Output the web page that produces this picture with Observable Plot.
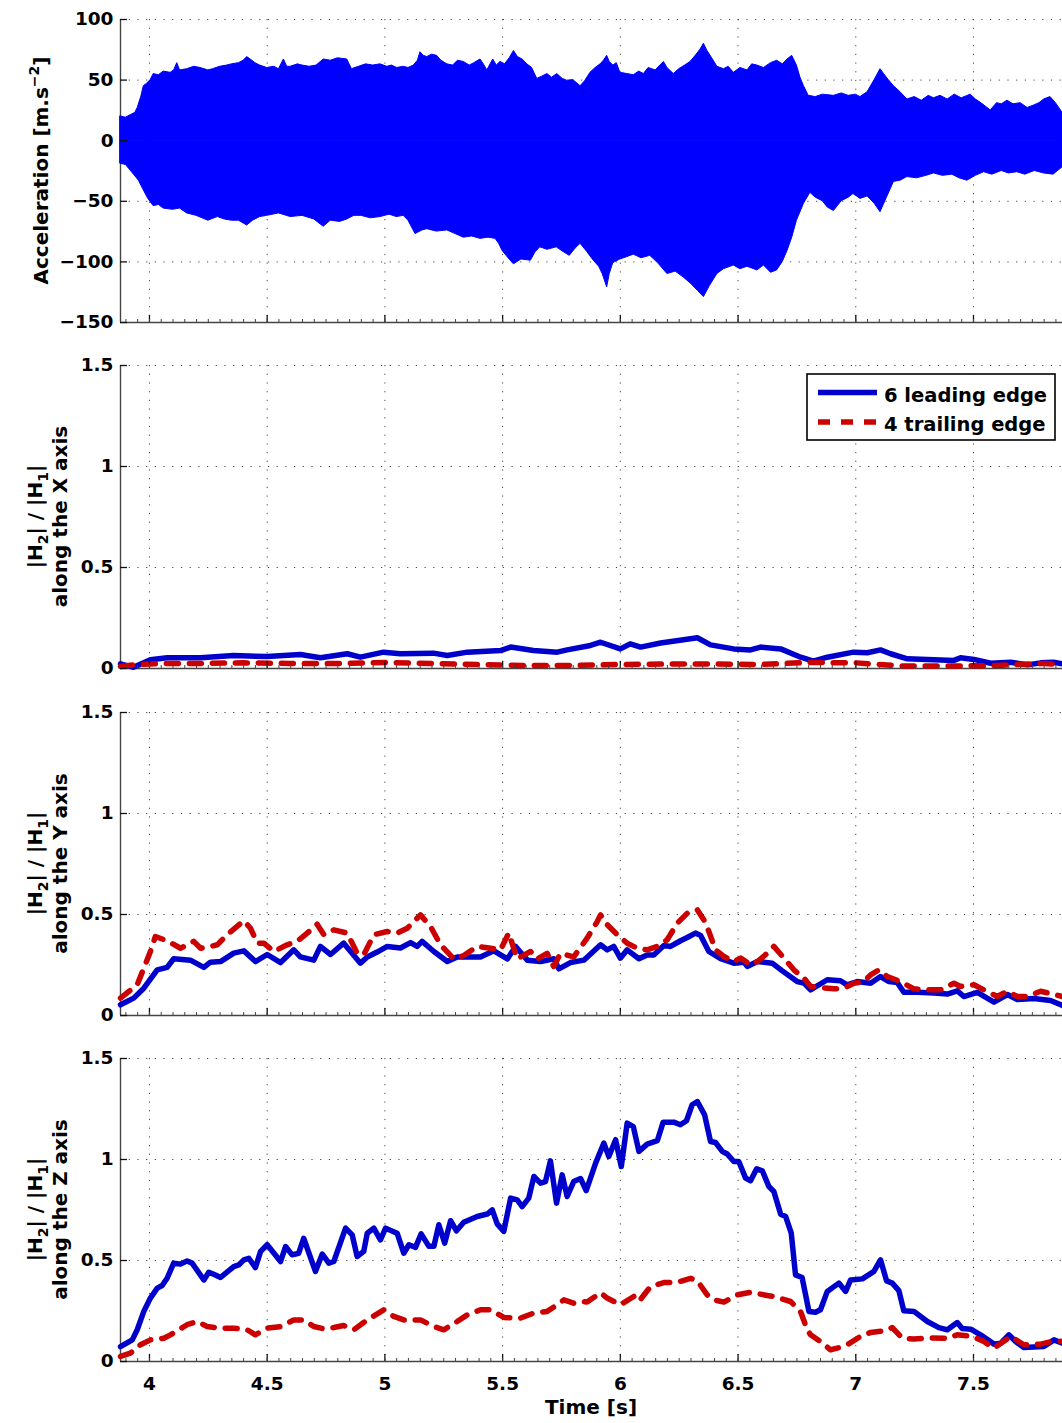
<!DOCTYPE html>
<html><head><meta charset="utf-8">
<script src="https://cdn.jsdelivr.net/npm/d3@7"></script>
<script src="https://cdn.jsdelivr.net/npm/@observablehq/plot@0.6"></script>
<style>
html,body{margin:0;padding:0;background:#fff;}
#wrap{position:relative;width:1062px;height:1423px;overflow:hidden;}
.panel{position:absolute;left:0;}
.panel svg{display:block;}
</style></head><body><div id="wrap"></div>
<script>
// ---------- data (time [s], value) ----------
const xTicks = [4, 4.5, 5, 5.5, 6, 6.5, 7, 7.5];
const accTicks = [100, 50, 0, -50, -100, -150];
const ratioTicks = [0, 0.5, 1, 1.5];
const xDomain = [3.877, 7.878];

const accUpper = [[3.877,20],[3.9,19],[3.92,21],[3.94,23],[3.95,27],[3.965,36],[3.976,45],[3.99,47],[4.005,50],[4.018,55],[4.04,54],[4.06,57],[4.09,56],[4.105,58],[4.118,64],[4.13,58],[4.16,59],[4.19,61],[4.217,60],[4.25,58],[4.27,59],[4.3,61],[4.33,62],[4.35,63],[4.38,64],[4.4,66],[4.415,69],[4.43,67],[4.45,64],[4.47,62],[4.5,60],[4.53,61],[4.55,59],[4.571,67],[4.585,61],[4.6,61],[4.63,63],[4.65,62],[4.68,61],[4.71,62],[4.74,67],[4.77,66],[4.8,68],[4.84,67],[4.86,59],[4.89,61],[4.92,63],[4.95,62],[4.981,63],[5.01,61],[5.03,62],[5.052,60],[5.08,61],[5.1,60],[5.123,62],[5.14,66],[5.151,73],[5.165,70],[5.18,69],[5.2,71],[5.222,70],[5.24,66],[5.265,63],[5.29,62],[5.31,66],[5.335,65],[5.36,62],[5.38,64],[5.406,67],[5.42,63],[5.435,58],[5.46,67],[5.475,62],[5.491,65],[5.51,63],[5.53,68],[5.548,74],[5.565,69],[5.585,67],[5.605,63],[5.625,60],[5.647,51],[5.67,53],[5.69,55],[5.71,52],[5.732,55],[5.755,51],[5.774,49.5],[5.8,50],[5.831,45],[5.85,49],[5.873,56],[5.895,60],[5.916,63],[5.93,66],[5.944,70],[5.955,65],[5.97,62],[5.985,64],[6.0,56],[6.03,55],[6.057,54],[6.08,57],[6.1,55],[6.12,60],[6.15,58],[6.17,62],[6.185,65],[6.2,60],[6.227,55],[6.25,59],[6.275,62],[6.298,65],[6.32,70],[6.34,75],[6.355,80],[6.37,74],[6.39,68],[6.412,61],[6.44,59],[6.46,61],[6.482,56],[6.51,60],[6.54,58],[6.56,63],[6.582,62],[6.61,60],[6.64,64],[6.666,66],[6.69,63],[6.71,67],[6.73,70],[6.75,62],[6.765,52],[6.78,45],[6.8,37],[6.83,36],[6.86,38],[6.907,37],[6.94,39],[6.97,37],[7.0,38],[7.02,36],[7.05,40],[7.08,50],[7.105,59],[7.12,55],[7.14,50],[7.162,45],[7.19,40],[7.219,34],[7.25,36],[7.28,33],[7.31,37],[7.332,35],[7.36,37],[7.39,34],[7.42,38],[7.45,35],[7.488,38],[7.51,34],[7.54,30],[7.573,25],[7.6,31],[7.62,30],[7.644,33],[7.67,30],[7.7,31],[7.73,27],[7.757,29],[7.78,31],[7.8,34],[7.827,36],[7.85,31],[7.878,23]];
const accLower = [[3.877,-19],[3.9,-20],[3.93,-27],[3.955,-33],[3.976,-41],[3.995,-48],[4.018,-54],[4.04,-53],[4.06,-56],[4.1,-57],[4.13,-56],[4.16,-60],[4.2,-62],[4.25,-66],[4.29,-63],[4.32,-65],[4.35,-66],[4.38,-66],[4.415,-70],[4.44,-66],[4.47,-63],[4.5,-62],[4.55,-60],[4.6,-63],[4.65,-62],[4.7,-65],[4.74,-71],[4.77,-66],[4.81,-67],[4.84,-65],[4.87,-62],[4.9,-62],[4.94,-64],[4.981,-63],[5.02,-61],[5.05,-63],[5.08,-62],[5.1,-66],[5.13,-77],[5.16,-74],[5.18,-73],[5.22,-75],[5.265,-74],[5.3,-77],[5.335,-80],[5.37,-79],[5.406,-81],[5.44,-80],[5.47,-81],[5.485,-85],[5.5,-91],[5.525,-97],[5.548,-102],[5.58,-98],[5.62,-99],[5.64,-92],[5.66,-88],[5.69,-90],[5.73,-88],[5.76,-92],[5.785,-95],[5.81,-89],[5.831,-85],[5.86,-92],[5.887,-99],[5.91,-104],[5.925,-110],[5.944,-121],[5.955,-110],[5.97,-101],[6.0,-98],[6.03,-96],[6.057,-94],[6.09,-97],[6.127,-95],[6.16,-101],[6.2,-110],[6.235,-108],[6.27,-113],[6.3,-118],[6.33,-124],[6.355,-129],[6.38,-120],[6.412,-110],[6.44,-106],[6.482,-103],[6.51,-106],[6.54,-104],[6.582,-107],[6.61,-103],[6.64,-109],[6.666,-107],[6.69,-100],[6.71,-91],[6.73,-80],[6.75,-66],[6.78,-52],[6.807,-43],[6.83,-47],[6.86,-50],[6.88,-55],[6.907,-58],[6.94,-50],[6.97,-47],[6.99,-44],[7.02,-48],[7.05,-46],[7.08,-52],[7.105,-59],[7.13,-48],[7.162,-34],[7.19,-33],[7.219,-30],[7.26,-31],[7.3,-29],[7.332,-27],[7.37,-29],[7.41,-28],[7.44,-31],[7.474,-33],[7.51,-29],[7.545,-26],[7.58,-28],[7.62,-25],[7.65,-27],[7.686,-26],[7.72,-28],[7.76,-25],[7.8,-27],[7.84,-28],[7.878,-22]];

const xLeading = [[3.877,0.023],[3.932,0.006],[4.004,0.043],[4.075,0.053],[4.217,0.053],[4.357,0.064],[4.5,0.059],[4.641,0.069],[4.726,0.053],[4.84,0.073],[4.896,0.056],[4.994,0.081],[5.066,0.073],[5.206,0.076],[5.265,0.064],[5.35,0.081],[5.491,0.089],[5.534,0.106],[5.631,0.089],[5.732,0.081],[5.774,0.092],[5.873,0.114],[5.916,0.13],[6.0,0.097],[6.042,0.122],[6.086,0.106],[6.171,0.126],[6.298,0.147],[6.327,0.152],[6.383,0.117],[6.481,0.097],[6.553,0.092],[6.596,0.106],[6.681,0.097],[6.766,0.056],[6.82,0.036],[6.879,0.056],[6.99,0.081],[7.049,0.078],[7.105,0.092],[7.148,0.073],[7.219,0.048],[7.332,0.043],[7.417,0.04],[7.445,0.053],[7.502,0.045],[7.573,0.026],[7.658,0.031],[7.729,0.018],[7.785,0.028],[7.84,0.031],[7.878,0.023]];
const xTrailing = [[3.877,0.01],[3.95,0.02],[4.05,0.025],[4.2,0.025],[4.4,0.028],[4.6,0.025],[4.8,0.025],[5.0,0.03],[5.2,0.025],[5.4,0.02],[5.6,0.015],[5.8,0.015],[6.0,0.02],[6.2,0.022],[6.4,0.022],[6.6,0.02],[6.8,0.03],[7.0,0.028],[7.2,0.012],[7.4,0.012],[7.6,0.015],[7.8,0.025],[7.878,0.02]];

const yLeading = [[3.877,0.053],[3.933,0.086],[3.976,0.135],[4.033,0.226],[4.075,0.238],[4.103,0.281],[4.174,0.274],[4.231,0.238],[4.259,0.264],[4.302,0.267],[4.358,0.309],[4.401,0.32],[4.45,0.267],[4.5,0.302],[4.557,0.262],[4.613,0.325],[4.641,0.29],[4.698,0.274],[4.726,0.342],[4.769,0.302],[4.825,0.358],[4.896,0.259],[4.925,0.29],[4.967,0.314],[5.01,0.342],[5.066,0.334],[5.109,0.361],[5.137,0.342],[5.158,0.367],[5.208,0.317],[5.265,0.267],[5.307,0.29],[5.406,0.29],[5.463,0.32],[5.52,0.28],[5.555,0.342],[5.605,0.274],[5.661,0.267],[5.718,0.281],[5.739,0.231],[5.788,0.262],[5.845,0.274],[5.916,0.35],[5.944,0.325],[5.972,0.342],[6.0,0.284],[6.029,0.325],[6.079,0.281],[6.114,0.3],[6.142,0.3],[6.185,0.347],[6.213,0.342],[6.256,0.37],[6.284,0.386],[6.319,0.408],[6.341,0.396],[6.376,0.317],[6.426,0.281],[6.482,0.259],[6.525,0.264],[6.539,0.243],[6.582,0.267],[6.645,0.259],[6.688,0.221],[6.751,0.168],[6.78,0.16],[6.808,0.127],[6.879,0.177],[6.935,0.172],[6.963,0.152],[7.006,0.168],[7.063,0.16],[7.105,0.193],[7.141,0.168],[7.176,0.163],[7.204,0.115],[7.261,0.115],[7.332,0.111],[7.389,0.106],[7.431,0.122],[7.459,0.094],[7.516,0.115],[7.587,0.066],[7.644,0.104],[7.686,0.079],[7.757,0.084],[7.827,0.074],[7.878,0.05]];
const yTrailing = [[3.877,0.086],[3.948,0.152],[4.004,0.317],[4.025,0.391],[4.075,0.37],[4.132,0.333],[4.188,0.367],[4.217,0.333],[4.259,0.342],[4.288,0.35],[4.33,0.4],[4.401,0.469],[4.429,0.432],[4.458,0.358],[4.486,0.358],[4.528,0.317],[4.585,0.35],[4.627,0.367],[4.67,0.408],[4.712,0.452],[4.741,0.4],[4.783,0.424],[4.84,0.408],[4.882,0.308],[4.91,0.3],[4.953,0.4],[5.01,0.416],[5.052,0.408],[5.095,0.432],[5.151,0.498],[5.194,0.44],[5.236,0.35],[5.293,0.28],[5.335,0.297],[5.392,0.342],[5.449,0.333],[5.491,0.325],[5.526,0.408],[5.562,0.28],[5.619,0.317],[5.647,0.28],[5.689,0.308],[5.717,0.243],[5.746,0.308],[5.802,0.29],[5.859,0.383],[5.902,0.465],[5.916,0.498],[5.944,0.45],[5.987,0.4],[6.029,0.358],[6.072,0.333],[6.114,0.325],[6.157,0.342],[6.199,0.375],[6.242,0.457],[6.284,0.506],[6.327,0.523],[6.355,0.473],[6.376,0.416],[6.404,0.325],[6.44,0.292],[6.482,0.267],[6.511,0.284],[6.553,0.251],[6.582,0.267],[6.624,0.308],[6.652,0.342],[6.695,0.284],[6.737,0.226],[6.78,0.185],[6.808,0.144],[6.85,0.138],[6.907,0.132],[6.95,0.135],[6.992,0.16],[7.034,0.168],[7.063,0.201],[7.098,0.226],[7.134,0.193],[7.19,0.168],[7.247,0.132],[7.304,0.127],[7.36,0.127],[7.417,0.16],[7.445,0.144],[7.502,0.152],[7.544,0.127],[7.601,0.094],[7.644,0.12],[7.686,0.094],[7.729,0.094],[7.785,0.12],[7.878,0.094]];

const zLeading = [[3.877,0.074],[3.927,0.107],[3.948,0.157],[3.976,0.248],[4.004,0.314],[4.033,0.363],[4.054,0.376],[4.075,0.412],[4.103,0.487],[4.132,0.482],[4.16,0.498],[4.181,0.487],[4.231,0.404],[4.252,0.442],[4.273,0.432],[4.302,0.416],[4.358,0.47],[4.379,0.478],[4.401,0.503],[4.422,0.511],[4.45,0.465],[4.472,0.545],[4.5,0.578],[4.557,0.495],[4.578,0.569],[4.606,0.528],[4.634,0.536],[4.655,0.61],[4.705,0.446],[4.734,0.532],[4.762,0.487],[4.783,0.495],[4.833,0.66],[4.861,0.627],[4.882,0.52],[4.91,0.545],[4.925,0.635],[4.953,0.66],[4.981,0.602],[5.003,0.66],[5.052,0.635],[5.08,0.536],[5.102,0.578],[5.13,0.565],[5.154,0.632],[5.187,0.57],[5.208,0.57],[5.229,0.677],[5.254,0.586],[5.279,0.697],[5.304,0.647],[5.335,0.689],[5.392,0.718],[5.435,0.73],[5.456,0.751],[5.477,0.681],[5.505,0.644],[5.534,0.809],[5.562,0.8],[5.583,0.767],[5.611,0.809],[5.633,0.916],[5.661,0.883],[5.682,0.891],[5.703,0.993],[5.729,0.784],[5.753,0.924],[5.774,0.817],[5.802,0.891],[5.831,0.906],[5.855,0.846],[5.895,0.982],[5.93,1.081],[5.951,1.015],[5.98,1.098],[6.004,0.965],[6.029,1.18],[6.055,1.163],[6.079,1.04],[6.114,1.076],[6.157,1.093],[6.182,1.185],[6.227,1.185],[6.255,1.172],[6.281,1.192],[6.305,1.271],[6.327,1.287],[6.358,1.221],[6.383,1.089],[6.404,1.084],[6.433,1.04],[6.454,1.027],[6.482,0.99],[6.503,0.99],[6.532,0.908],[6.553,0.895],[6.579,0.954],[6.603,0.944],[6.631,0.866],[6.652,0.842],[6.681,0.729],[6.702,0.718],[6.726,0.635],[6.744,0.429],[6.772,0.416],[6.801,0.248],[6.829,0.244],[6.85,0.256],[6.879,0.347],[6.928,0.388],[6.957,0.347],[6.978,0.404],[7.028,0.409],[7.077,0.446],[7.105,0.503],[7.131,0.399],[7.155,0.388],[7.183,0.351],[7.204,0.251],[7.247,0.248],[7.304,0.198],[7.353,0.168],[7.389,0.157],[7.431,0.193],[7.452,0.163],[7.488,0.16],[7.53,0.132],[7.587,0.086],[7.615,0.09],[7.65,0.132],[7.679,0.099],[7.714,0.069],[7.799,0.074],[7.842,0.107],[7.878,0.09]];
const zTrailing = [[3.877,0.025],[3.919,0.041],[3.962,0.083],[4.004,0.107],[4.061,0.115],[4.089,0.132],[4.16,0.182],[4.203,0.198],[4.245,0.173],[4.302,0.165],[4.358,0.165],[4.415,0.157],[4.45,0.132],[4.5,0.165],[4.557,0.173],[4.613,0.206],[4.655,0.206],[4.698,0.173],[4.741,0.162],[4.783,0.168],[4.825,0.178],[4.868,0.157],[4.925,0.206],[4.995,0.256],[5.038,0.223],[5.08,0.206],[5.151,0.206],[5.208,0.173],[5.25,0.157],[5.307,0.198],[5.35,0.231],[5.406,0.256],[5.449,0.256],[5.505,0.218],[5.576,0.215],[5.633,0.24],[5.689,0.248],[5.732,0.281],[5.76,0.305],[5.802,0.289],[5.831,0.297],[5.859,0.294],[5.916,0.34],[5.944,0.314],[6.001,0.281],[6.057,0.322],[6.079,0.297],[6.128,0.371],[6.185,0.391],[6.241,0.392],[6.298,0.412],[6.327,0.399],[6.369,0.33],[6.397,0.305],[6.44,0.294],[6.497,0.33],[6.553,0.343],[6.624,0.327],[6.652,0.322],[6.723,0.297],[6.765,0.248],[6.794,0.157],[6.808,0.132],[6.85,0.099],[6.893,0.058],[6.921,0.066],[6.964,0.083],[7.02,0.124],[7.063,0.144],[7.119,0.151],[7.155,0.168],[7.198,0.115],[7.247,0.111],[7.318,0.117],[7.389,0.115],[7.431,0.132],[7.495,0.124],[7.544,0.099],[7.587,0.066],[7.658,0.124],[7.714,0.083],[7.785,0.086],[7.842,0.102],[7.878,0.099]];

const legendLabels = ["6 leading edge", "4 trailing edge"];
const axisNames = ["X", "Y", "Z"];

// ---------- styling ----------
const BLUE = "#0000cc", RED = "#cc0000", SIGNAL = "#0000ff";
const W = 1062, ML = 120, MT = 19, PH = 303;
const FONT = "DejaVu Sans";
const xMinor = d3.range(3.9, 7.876, 0.05);
const fmt = d => d < 0 ? "\u2212" + Math.abs(d) : String(d);

function makePanel({top, yDomain, yTicks, dataMarks, bottom}) {
  const MB = bottom ? 65 : 24;
  const svg = Plot.plot({
    width: W, height: MT + PH + MB,
    marginLeft: ML, marginRight: 0, marginTop: MT, marginBottom: MB,
    style: {fontFamily: FONT, fontSize: "18px", fontWeight: "bold", color: "#000", background: "transparent", overflow: "visible"},
    x: {domain: xDomain, axis: null},
    y: {domain: yDomain, axis: null},
    marks: [
      Plot.gridX(xTicks, {stroke: "#333", strokeOpacity: 0.9, strokeWidth: 1, strokeDasharray: "1.2,7.5"}),
      Plot.gridY(yTicks, {stroke: "#333", strokeOpacity: 0.9, strokeWidth: 1, strokeDasharray: "1.2,7.5"}),
      Plot.ruleX([xDomain[0]], {stroke: "#444", strokeWidth: 1.4}),
      Plot.ruleY([yDomain[0]], {stroke: "#444", strokeWidth: 1.4}),
      ...dataMarks,
      Plot.tickX(xTicks, {x: d => d, insetTop: PH - 7, stroke: "#111", strokeWidth: 1.3}),
      Plot.tickX(xMinor, {x: d => d, insetTop: PH - 3, stroke: "#444", strokeWidth: 1}),
      Plot.tickY(yTicks, {y: d => d, insetRight: W - ML - 7, stroke: "#111", strokeWidth: 1.3}),
      Plot.axisY({ticks: yTicks, tickSize: 0, tickPadding: 7, label: null, tickFormat: fmt, fontSize: 18.5}),
      bottom ? Plot.axisX({ticks: xTicks, tickSize: 0, tickPadding: 15, label: null, tickFormat: fmt, fontSize: 18.5}) : null
    ]
  });
  const div = document.createElement("div");
  div.className = "panel";
  div.style.top = top + "px";
  div.appendChild(svg);
  document.getElementById("wrap").appendChild(div);
  return d3.select(svg);
}

const lineMarks = (lead, trail) => [
  Plot.line(lead, {x: d => d[0], y: d => d[1], stroke: BLUE, strokeWidth: 5.5, strokeLinejoin: "round", strokeLinecap: "round"}),
  Plot.line(trail, {x: d => d[0], y: d => d[1], stroke: RED, strokeWidth: 5.5, strokeDasharray: "12,11", strokeLinejoin: "round"})
];

// Panel 1: acceleration signal envelope
const s1 = makePanel({
  top: 0, yDomain: [-150, 100], yTicks: accTicks,
  dataMarks: [
    Plot.areaY(accUpper, {x: d => d[0], y1: 0, y2: d => d[1], fill: SIGNAL, stroke: SIGNAL, strokeWidth: 1}),
    Plot.areaY(accLower, {x: d => d[0], y1: 0, y2: d => d[1], fill: SIGNAL, stroke: SIGNAL, strokeWidth: 1})
  ]
});
const l1 = s1.append("text")
  .attr("transform", `translate(48,${MT + PH / 2}) rotate(-90)`)
  .attr("text-anchor", "middle").attr("font-family", FONT).attr("font-weight", "bold").attr("font-size", 20).attr("fill", "#000");
l1.append("tspan").text("Acceleration [m.s");
l1.append("tspan").attr("font-size", 14).attr("dy", -9).text("\u22122");
l1.append("tspan").attr("dy", 9).text("]");

const ratioSeries = [[xLeading, xTrailing], [yLeading, yTrailing], [zLeading, zTrailing]];
const tops = [346, 693, 1039];
const ratioSvgs = ratioSeries.map(([lead, trail], i) => {
  const s = makePanel({
    top: tops[i], yDomain: [0, 1.5], yTicks: ratioTicks,
    dataMarks: lineMarks(lead, trail), bottom: i === 2
  });
  const cy = MT + PH / 2;
  const t1 = s.append("text")
    .attr("transform", `translate(42,${cy}) rotate(-90)`)
    .attr("text-anchor", "middle").attr("font-family", FONT).attr("font-weight", "bold").attr("font-size", 20).attr("fill", "#000");
  t1.append("tspan").text("|H");
  t1.append("tspan").attr("font-size", 14).attr("dy", 6).text("2");
  t1.append("tspan").attr("dy", -6).text("| / |H");
  t1.append("tspan").attr("font-size", 14).attr("dy", 6).text("1");
  t1.append("tspan").attr("dy", -6).text("|");
  s.append("text")
    .attr("transform", `translate(67,${cy}) rotate(-90)`)
    .attr("text-anchor", "middle").attr("font-family", FONT).attr("font-weight", "bold").attr("font-size", 20).attr("fill", "#000")
    .text(`along the ${axisNames[i]} axis`);
  return s;
});

// Legend in panel 2
{
  const s = ratioSvgs[0];
  const g = s.append("g").attr("font-family", FONT).attr("font-weight", "bold").attr("font-size", 19.5).attr("text-anchor", "start");
  g.append("rect").attr("x", 807).attr("y", 28).attr("width", 248).attr("height", 66)
    .attr("fill", "#fff").attr("stroke", "#000").attr("stroke-width", 1.6);
  g.append("line").attr("x1", 818).attr("x2", 877).attr("y1", 46.5).attr("y2", 46.5)
    .attr("stroke", BLUE).attr("stroke-width", 5.5);
  g.append("line").attr("x1", 818).attr("x2", 877).attr("y1", 76).attr("y2", 76)
    .attr("stroke", RED).attr("stroke-width", 5.5).attr("stroke-dasharray", "12,11");
  g.append("text").attr("x", 884).attr("y", 55.5).attr("text-anchor", "start").attr("fill", "#000").text(legendLabels[0]);
  g.append("text").attr("x", 884).attr("y", 84.5).attr("text-anchor", "start").attr("fill", "#000").text(legendLabels[1]);
}

// x-axis title on bottom panel
ratioSvgs[2].append("text").attr("x", (ML + W) / 2).attr("y", 375)
  .attr("text-anchor", "middle").attr("font-family", FONT).attr("font-weight", "bold").attr("font-size", 20).attr("fill", "#000")
  .text("Time [s]");
</script></body></html>
